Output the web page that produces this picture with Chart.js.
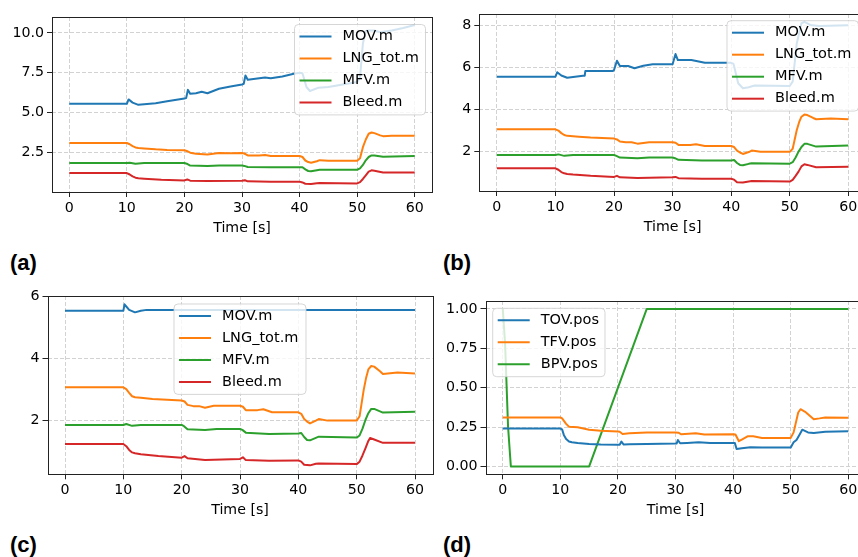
<!DOCTYPE html>
<html>
<head>
<meta charset="utf-8">
<style>
  html, body { margin: 0; padding: 0; overflow: hidden; background: #fff; }
  body { position: relative; width: 858px; height: 557px; }
  canvas { position: absolute; }
  .tag { position: absolute; font: bold 22px "Liberation Sans"; line-height: 22px; color: #000; }
</style>
</head>
<body>
<canvas id="panelA" width="440" height="241" style="left:0px;top:0px"></canvas>
<canvas id="panelB" width="440" height="240" style="left:430px;top:0px"></canvas>
<canvas id="panelC" width="440" height="243" style="left:0px;top:280px"></canvas>
<canvas id="panelD" width="440" height="243" style="left:430px;top:280px"></canvas>
<div class="tag" style="left:10px;top:252px">(a)</div>
<div class="tag" style="left:443px;top:252px">(b)</div>
<div class="tag" style="left:10px;top:534px">(c)</div>
<div class="tag" style="left:443px;top:534px">(d)</div>

<script src="https://cdn.jsdelivr.net/npm/chart.js@4.4.1/dist/chart.umd.min.js"></script>
<script>
// ---- data ----
const xTicks = [0, 10, 20, 30, 40, 50, 60];
const massLabels = ["MOV.m", "LNG_tot.m", "MFV.m", "Bleed.m"];
const posLabels = ["TOV.pos", "TFV.pos", "BPV.pos"];

// (a)
const aMovT = [0, 10, 10.3, 11, 12, 13, 15, 17, 20, 20.3, 20.6, 21, 22, 23, 24, 26, 28, 30, 30.3, 30.6, 31, 33, 34, 35, 37, 39, 40, 40.5, 41.2, 41.8, 43.3, 45, 50, 50.5, 51, 51.5, 52, 53, 54, 56, 58, 60];
const aMovV = [5.54, 5.54, 5.82, 5.62, 5.48, 5.52, 5.58, 5.7, 5.88, 5.9, 6.42, 6.17, 6.21, 6.3, 6.21, 6.49, 6.63, 6.76, 6.8, 7.32, 7.05, 7.15, 7.2, 7.15, 7.26, 7.43, 7.49, 7.47, 6.6, 6.35, 6.56, 6.6, 6.92, 7.2, 9.33, 10.12, 10.15, 10.15, 10.04, 10.15, 10.31, 10.5];
const aLngT = [0, 10, 10.5, 11, 11.5, 12, 13, 15, 17, 20, 20.4, 21, 22, 24, 26, 28, 30, 30.4, 31, 33, 34, 35, 40, 40.5, 41, 41.5, 42, 43, 43.5, 45, 50, 50.5, 51, 51.5, 52, 52.5, 53, 54, 54.5, 56, 60];
const aLngV = [3.08, 3.08, 3.0, 2.88, 2.8, 2.76, 2.74, 2.68, 2.64, 2.62, 2.58, 2.47, 2.41, 2.36, 2.45, 2.43, 2.45, 2.42, 2.3, 2.3, 2.32, 2.26, 2.26, 2.2, 1.98, 1.88, 1.84, 1.93, 2.0, 1.97, 1.97, 2.12, 2.82, 3.3, 3.66, 3.74, 3.7, 3.56, 3.51, 3.53, 3.53];
const aMfvT = [0, 10, 10.5, 11.5, 13, 20, 20.4, 21, 24, 26, 30, 30.4, 31, 35, 40, 40.5, 41, 41.5, 42, 43, 43.5, 50, 50.5, 51, 51.5, 52, 52.5, 53, 54.5, 60];
const aMfvV = [1.82, 1.82, 1.84, 1.78, 1.82, 1.82, 1.78, 1.66, 1.63, 1.67, 1.67, 1.64, 1.57, 1.55, 1.55, 1.56, 1.42, 1.32, 1.3, 1.37, 1.4, 1.4, 1.48, 1.7, 1.99, 2.2, 2.3, 2.3, 2.22, 2.26];
const aBleedT = [0, 10, 10.5, 11, 11.5, 12, 13, 16, 20, 20.5, 21, 24, 30, 30.5, 31, 35, 40, 40.5, 41, 42, 43, 43.5, 50, 50.5, 51, 51.5, 52, 52.5, 53, 54.5, 60];
const aBleedV = [1.19, 1.19, 1.1, 0.98, 0.9, 0.87, 0.84, 0.77, 0.73, 0.79, 0.71, 0.69, 0.71, 0.74, 0.67, 0.65, 0.65, 0.6, 0.52, 0.5, 0.55, 0.56, 0.54, 0.62, 0.82, 1.05, 1.28, 1.36, 1.34, 1.23, 1.23];
const aYTicks = [2.5, 5, 7.5, 10];
const aYLabels = ["2.5", "5.0", "7.5", "10.0"];

// (b)
const bMovT = [0, 10, 10.3, 11, 12, 14.7, 15, 15.1, 19.8, 20, 20.5, 21, 22.4, 23.5, 25, 26.6, 30, 30.5, 30.9, 33.2, 35.5, 40, 40.4, 41.2, 42, 43, 44, 50, 50.5, 51.2, 52, 52.5, 53.5, 55, 60];
const bMovV = [5.56, 5.56, 5.77, 5.62, 5.51, 5.61, 5.61, 5.83, 5.83, 5.88, 6.32, 6.07, 6.07, 5.96, 6.08, 6.15, 6.15, 6.64, 6.35, 6.35, 6.22, 6.22, 6.17, 5.25, 5.01, 5.06, 5.14, 5.12, 5.33, 7.15, 8.1, 8.17, 8.02, 7.97, 8.0];
const bLngT = [0, 10, 10.5, 11, 11.5, 12, 14, 16, 20, 20.5, 21, 22, 23, 24, 26, 30, 30.5, 31, 33, 34, 35.5, 40, 40.5, 41, 41.5, 42, 43, 43.5, 45, 50, 50.5, 51.2, 51.6, 52, 52.5, 53, 54, 54.5, 57, 60];
const bLngV = [3.06, 3.06, 3.0, 2.88, 2.79, 2.75, 2.71, 2.67, 2.62, 2.58, 2.48, 2.45, 2.45, 2.38, 2.45, 2.45, 2.42, 2.32, 2.32, 2.35, 2.27, 2.27, 2.22, 2.05, 1.96, 1.89, 1.98, 2.05, 1.99, 1.99, 2.14, 3.03, 3.4, 3.66, 3.76, 3.74, 3.6, 3.54, 3.57, 3.54];
const bMfvT = [0, 10, 10.5, 11.5, 13, 20, 20.4, 21, 24, 26, 30, 30.4, 31, 35, 40, 40.5, 41, 41.5, 42, 43, 43.5, 50, 50.5, 51, 51.5, 52, 52.5, 53, 54.5, 60];
const bMfvV = [1.84, 1.84, 1.87, 1.8, 1.84, 1.84, 1.8, 1.72, 1.69, 1.72, 1.72, 1.69, 1.61, 1.58, 1.58, 1.6, 1.46, 1.37, 1.35, 1.42, 1.45, 1.43, 1.5, 1.72, 2.0, 2.22, 2.37, 2.37, 2.24, 2.29];
const bBleedT = [0, 10, 10.5, 11, 11.5, 12, 13, 16, 20, 20.5, 21, 24, 30, 30.5, 31, 35, 40, 40.5, 41, 42, 43, 43.5, 50, 50.5, 51, 51.5, 52, 52.5, 53, 54.5, 60];
const bBleedV = [1.21, 1.21, 1.14, 1.03, 0.97, 0.94, 0.91, 0.85, 0.8, 0.85, 0.78, 0.75, 0.78, 0.8, 0.74, 0.71, 0.71, 0.67, 0.55, 0.53, 0.58, 0.6, 0.58, 0.66, 0.85, 1.05, 1.3, 1.4, 1.37, 1.26, 1.28];
const bYTicks = [2, 4, 6, 8];
const bYLabels = ["2", "4", "6", "8"];

// (c)
const cMovT = [0, 10, 10.2, 10.5, 11, 12, 13, 14, 60];
const cMovV = [5.54, 5.54, 5.75, 5.68, 5.57, 5.49, 5.54, 5.57, 5.57];
const cLngT = [0, 10, 10.5, 11, 11.5, 12, 13, 15, 20, 20.5, 21, 22, 23, 24, 25.5, 30, 30.5, 31, 33, 34, 35.5, 40, 40.5, 41, 41.5, 42, 43, 43.5, 45, 50, 50.5, 51.2, 51.6, 52, 52.5, 53, 54, 54.5, 57, 60];
const cLngV = [3.06, 3.06, 3.0, 2.88, 2.77, 2.74, 2.72, 2.68, 2.63, 2.6, 2.49, 2.45, 2.45, 2.4, 2.46, 2.46, 2.43, 2.32, 2.32, 2.35, 2.25, 2.25, 2.2, 2.03, 1.95, 1.89, 1.98, 2.03, 1.98, 1.98, 2.12, 2.97, 3.35, 3.64, 3.75, 3.73, 3.58, 3.49, 3.54, 3.51];
const cMfvT = [0, 10, 10.5, 11.5, 13, 20, 20.4, 21, 24, 26, 30, 30.4, 31, 35, 40, 40.5, 41, 41.5, 42, 43, 43.5, 50, 50.5, 51, 51.5, 52, 52.5, 53, 54.5, 60];
const cMfvV = [1.84, 1.84, 1.87, 1.81, 1.84, 1.84, 1.8, 1.7, 1.68, 1.71, 1.71, 1.68, 1.59, 1.55, 1.56, 1.58, 1.45, 1.35, 1.34, 1.42, 1.46, 1.43, 1.5, 1.72, 2.0, 2.22, 2.36, 2.36, 2.24, 2.27];
const cBleedT = [0, 10, 10.5, 11, 11.5, 12, 13, 16, 20, 20.5, 21, 24, 30, 30.5, 31, 35, 40, 40.5, 41, 42, 43, 43.5, 50, 50.5, 51, 51.5, 52, 52.3, 53, 54.5, 60];
const cBleedV = [1.22, 1.22, 1.15, 1.03, 0.95, 0.92, 0.89, 0.83, 0.78, 0.83, 0.76, 0.7, 0.74, 0.79, 0.7, 0.68, 0.69, 0.65, 0.55, 0.53, 0.58, 0.59, 0.57, 0.65, 0.85, 1.08, 1.32, 1.42, 1.37, 1.26, 1.26];
const cYTicks = [2, 4, 6];
const cYLabels = ["2", "4", "6"];

// (d)
const dTovT = [0, 10, 10.3, 10.6, 11, 11.5, 12, 13, 15, 17, 20, 20.3, 20.6, 21, 22, 25, 30, 30.2, 30.4, 30.8, 32, 34, 36, 40, 40.3, 40.6, 41.5, 43, 45, 50, 50.5, 51, 51.5, 52, 53, 54, 56, 60];
const dTovV = [0.24, 0.24, 0.235, 0.2, 0.174, 0.158, 0.153, 0.149, 0.143, 0.139, 0.137, 0.138, 0.158, 0.139, 0.141, 0.143, 0.145, 0.146, 0.168, 0.147, 0.149, 0.153, 0.149, 0.149, 0.148, 0.111, 0.116, 0.122, 0.12, 0.12, 0.153, 0.168, 0.2, 0.233, 0.216, 0.212, 0.22, 0.223];
const dTfvT = [0, 10, 10.3, 11, 11.5, 13, 15, 17, 20, 20.3, 20.8, 22, 25, 30, 30.5, 31, 33.5, 35, 40, 40.4, 41, 41.5, 42.5, 43.5, 45, 50, 50.5, 51.3, 51.7, 52.5, 54, 55, 56, 60];
const dTfvV = [0.311, 0.311, 0.305, 0.27, 0.252, 0.248, 0.233, 0.227, 0.221, 0.22, 0.206, 0.21, 0.216, 0.216, 0.214, 0.204, 0.21, 0.202, 0.204, 0.203, 0.16, 0.17, 0.191, 0.191, 0.181, 0.181, 0.216, 0.342, 0.363, 0.347, 0.3, 0.305, 0.311, 0.309];
const dBpvT = [0, 0.4, 0.92, 1.4, 15, 25, 60];
const dBpvV = [1.0, 0.78, 0.25, 0, 0, 1.0, 1.0];
const dYTicks = [0, 0.25, 0.5, 0.75, 1];
const dYLabels = ["0.00", "0.25", "0.50", "0.75", "1.00"];

const colors = ["#1f77b4", "#ff7f0e", "#2ca02c", "#d62728"];

// ---- helpers ----
const pts = (t, v) => t.map((x, i) => ({ x: x, y: v[i] }));
const tickFont = { family: "DejaVu Sans", size: 14.2 };

// frame + matplotlib-like legend drawn on top of the lines
const boxLegend = {
  id: "boxLegend",
  afterDatasetsDraw(chart, args, o) {
    const ctx = chart.ctx;
    const a = chart.chartArea;
    ctx.save();
    ctx.strokeStyle = "#222";
    ctx.lineWidth = 1;
    ctx.setLineDash([]);
    ctx.strokeRect(Math.round(a.left) + 0.5, Math.round(a.top) + 0.5,
      Math.round(a.right) - Math.round(a.left), Math.round(a.bottom) - Math.round(a.top));

    const n = chart.data.datasets.length;
    const h = 24.4 + 22 * (n - 1);
    const x = o.x, y = o.y, w = o.w, r = 4;
    ctx.beginPath();
    ctx.moveTo(x + r, y);
    ctx.arcTo(x + w, y, x + w, y + h, r);
    ctx.arcTo(x + w, y + h, x, y + h, r);
    ctx.arcTo(x, y + h, x, y, r);
    ctx.arcTo(x, y, x + w, y, r);
    ctx.closePath();
    ctx.fillStyle = "rgba(255,255,255,0.8)";
    ctx.fill();
    ctx.strokeStyle = "rgba(204,204,204,0.8)";
    ctx.stroke();

    ctx.font = '14.5px "DejaVu Sans"';
    ctx.textBaseline = "middle";
    chart.data.datasets.forEach((ds, i) => {
      const ry = y + 12 + 22 * i;
      ctx.strokeStyle = ds.borderColor;
      ctx.lineWidth = 2;
      ctx.beginPath();
      ctx.moveTo(x + 5, ry);
      ctx.lineTo(x + 37, ry);
      ctx.stroke();
      ctx.fillStyle = "#000";
      ctx.fillText(ds.label, x + 48, ry);
    });
    ctx.restore();
  }
};

function panel(id, p) {
  return new Chart(document.getElementById(id), {
    type: "line",
    data: {
      datasets: p.series.map((s, i) => ({
        label: p.labels[i],
        data: pts(s[0], s[1]),
        borderColor: colors[i],
        borderWidth: 2,
        pointRadius: 0,
        tension: 0,
        fill: false,
        borderJoinStyle: "round"
      }))
    },
    options: {
      responsive: false,
      animation: false,
      events: [],
      layout: { padding: { top: p.padTop, right: p.padRight, left: 0, bottom: 0 } },
      plugins: {
        legend: { display: false },
        tooltip: { enabled: false },
        boxLegend: p.legend
      },
      scales: {
        x: {
          type: "linear",
          min: -3, max: 63,
          afterBuildTicks: s => { s.ticks = xTicks.map(v => ({ value: v })); },
          afterFit: s => { s.height = p.xh; },
          ticks: { font: tickFont, color: "#000", padding: 3, maxRotation: 0, autoSkip: false,
                   callback: (v, i) => String(xTicks[i]) },
          grid: { color: "#d2d2d2", lineWidth: 1, tickLength: 5, tickColor: "#222", tickWidth: 1, tickBorderDash: [] },
          border: { display: false, dash: [4, 2] },
          title: { display: true, text: "Time [s]", font: tickFont, color: "#000", padding: { top: 4, bottom: 4 } }
        },
        y: {
          type: "linear",
          min: p.yMin, max: p.yMax,
          afterBuildTicks: s => { s.ticks = p.yTicks.map(v => ({ value: v })); },
          afterFit: s => { s.width = p.yw; },
          ticks: { font: tickFont, color: "#000", padding: 3, autoSkip: false,
                   callback: (v, i) => p.yLabels[i] },
          grid: { color: "#d2d2d2", lineWidth: 1, tickLength: 5, tickColor: "#222", tickWidth: 1, tickBorderDash: [] },
          border: { display: false, dash: [4, 2] }
        }
      }
    },
    plugins: [boxLegend]
  });
}

panel("panelA", {
  labels: massLabels,
  series: [[aMovT, aMovV], [aLngT, aLngV], [aMfvT, aMfvV], [aBleedT, aBleedV]],
  yMin: 0, yMax: 11, yTicks: aYTicks, yLabels: aYLabels,
  yw: 52, xh: 49, padTop: 17, padRight: 8,
  legend: { x: 294.5, y: 24.5, w: 131 }
});

panel("panelB", {
  labels: massLabels,
  series: [[bMovT, bMovV], [bLngT, bLngV], [bMfvT, bMfvV], [bBleedT, bBleedV]],
  yMin: 0.13, yMax: 8.54, yTicks: bYTicks, yLabels: bYLabels,
  yw: 49.3, xh: 49, padTop: 14, padRight: 4.1,
  legend: { x: 727 - 430, y: 20.7, w: 131.5 }
});

panel("panelC", {
  labels: massLabels,
  series: [[cMovT, cMovV], [cLngT, cLngV], [cMfvT, cMfvV], [cBleedT, cBleedV]],
  yMin: 0.24, yMax: 6.02, yTicks: cYTicks, yLabels: cYLabels,
  yw: 47.5, xh: 48.7, padTop: 16, padRight: 7.5,
  legend: { x: 174, y: 304 - 280, w: 132 }
});

panel("panelD", {
  labels: posLabels,
  series: [[dTovT, dTovV], [dTfvT, dTfvV], [dBpvT, dBpvV]],
  yMin: -0.05, yMax: 1.05, yTicks: dYTicks, yLabels: dYLabels,
  yw: 55.5, xh: 48.7, padTop: 21, padRight: 4.4,
  legend: { x: 492.7 - 430, y: 308.3 - 280, w: 112.3 }
});
</script>
</body>
</html>
